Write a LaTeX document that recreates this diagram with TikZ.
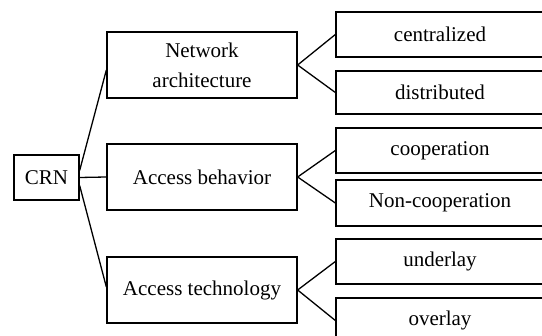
\documentclass[tikz,border=0pt]{standalone}
\usepackage{fontspec}
\setmainfont{Liberation Serif}
\begin{document}
\begin{tikzpicture}[x=1pt,y=-1pt,
  box/.style={draw,line width=1.3pt,inner sep=0pt,align=center,
    font=\fontsize{21}{30}\selectfont},
  mid/.style={box,minimum width=190pt,minimum height=66pt},
  leaf/.style={box,minimum width=208pt,minimum height=45pt},
  link/.style={line width=1.3pt}]
\useasboundingbox (0,0) rectangle (542,336);
\clip (0,0) rectangle (542,336);
% root
\node[box,minimum width=65pt,minimum height=45pt] (crn) at (46.5,177.5) {CRN};
% second level
\node[mid] (arch) at (202,65) {Network\\architecture};
\node[mid] (beh)  at (202,177) {Access behavior};
\node[mid] (tech) at (202,290) {Access technology};
% leaves
\node[leaf] (cen)  at (440,34.5)  {centralized};
\node[leaf,minimum height=43pt] (dis) at (440,92.5) {distributed};
\node[leaf] (coop) at (440,150.5) {cooperation};
\node[leaf,minimum height=46pt] (ncoop) at (440,203) {Non-cooperation};
\node[leaf] (und)  at (440,261.5) {underlay};
\node[leaf] (ovl)  at (440,320.5) {overlay};
% connectors
\draw[link] ([yshift=7pt]crn.east) -- ([yshift=-5pt]arch.west);
\draw[link] (crn.east) -- (beh.west);
\draw[link] ([yshift=-8pt]crn.east) -- ([yshift=3pt]tech.west);
\draw[link] (cen.west) -- (arch.east) -- (dis.west);
\draw[link] (coop.west) -- (beh.east) -- (ncoop.west);
\draw[link] (und.west) -- (tech.east) -- (ovl.west);
\end{tikzpicture}
\end{document}
